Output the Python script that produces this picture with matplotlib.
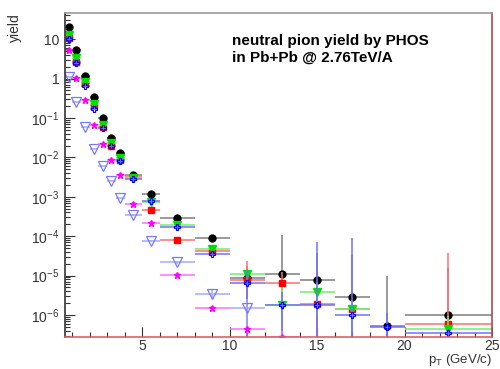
import numpy as np
import matplotlib
matplotlib.use("Agg")
import matplotlib.pyplot as plt
from matplotlib.ticker import FixedLocator, FixedFormatter, NullFormatter, MultipleLocator

plt.rcParams.update({
    "font.family": "Liberation Sans",
    "mathtext.fontset": "custom",
    "mathtext.rm": "Liberation Sans",
    "mathtext.it": "Liberation Sans:italic",
    "axes.unicode_minus": False,
})

nan = np.nan

# pT bins (GeV/c)
pt_lo = np.array([0.6, 1.0, 1.5, 2.0, 2.5, 3.0, 3.5, 4, 5, 6, 8, 10, 12, 14, 16, 18, 20])
pt_hi = np.array([1.0, 1.5, 2.0, 2.5, 3.0, 3.5, 4.0, 5, 6, 8, 10, 12, 14, 16, 18, 20, 25])

# yields per series
y_black = [20, 5.3, 1.19, 0.34, 0.099, 0.031, 0.013, 0.0036, 1.2e-3, 2.9e-4, 8.9e-5,
           8.5e-6, 1.1e-5, 7.7e-6, 2.9e-6, 5.1e-7, 1.0e-6]
e_black = [0, 0, 0, 0, 0, 0, 0, 1e-4, 5e-5, 2e-5, 5e-6,
           9e-6, 9.5e-5, 3e-5, 3e-5, 9.5e-6, 1.5e-5]

y_red = [11, 2.7, 0.76, 0.21, 0.06, 0.02, 0.0087, 0.0031, 4.5e-4, 8.1e-5, 4.1e-5,
         7.5e-6, 6.3e-6, 1.9e-6, 1.4e-6, nan, 6.0e-7]
e_red = [0, 0, 0, 0, 0, 0, 0, 1e-4, 4e-5, 1e-5, 4e-6,
         1.55e-5, 6e-6, 2e-6, 5e-7, nan, 3.6e-5]

y_green = [13, 3.3, 0.84, 0.23, 0.067, 0.023, 0.0095, 0.003, 7.2e-4, 1.95e-4, 4.8e-5,
           1.07e-5, 1.8e-6, 3.9e-6, 1.4e-6, nan, 4.5e-7]
e_green = [0, 0, 0, 0, 0, 0, 0, 1e-4, 4e-5, 1e-5, 4e-6,
           2e-6, 3.4e-6, 3e-6, 1e-6, nan, 5e-7]

y_blue = [10, 2.55, 0.65, 0.17, 0.055, 0.019, 0.0083, 0.0028, 7.6e-4, 1.66e-4, 3.5e-5,
          6.6e-6, 1.8e-6, 1.8e-6, 1.0e-6, 5.0e-7, 3.5e-7]
e_blue = [0, 0, 0, 0, 0, 0, 0, 1e-4, 4e-5, 1e-5, 4e-6,
          7e-6, 2e-6, 7.1e-5, 8.8e-5, 6e-7, 1e-7]

y_violet = [1.1, 0.26, 0.06, 0.016, 0.0059, 0.0025, 9.1e-4, 3.5e-4, 7.6e-5, 2.2e-5, 3.5e-6,
            1.5e-6, nan, nan, nan, nan, nan]
e_violet = [0, 0, 0, 0, 0, 0, 0, 2e-5, 5e-6, 2e-6, 1e-6,
            1e-6, nan, nan, nan, nan, nan]

y_magenta = [5.4, 1.06, 0.28, 0.067, 0.022, 0.0087, 0.0035, 6.6e-4, 2.2e-4, 1.05e-5, 1.5e-6,
             4.4e-7, 2.8e-7, nan, nan, nan, nan]
e_magenta = [0, 0, 0, 0, 0, 0, 0, 2e-5, 1e-5, 1e-6, 2e-7,
             1e-7, 1e-7, nan, nan, nan, nan]

y_ticks = [1e-6, 1e-5, 1e-4, 1e-3, 1e-2, 1e-1, 1, 10]
y_ticklabels = [r"$10^{-6}$", r"$10^{-5}$", r"$10^{-4}$", r"$10^{-3}$",
                r"$10^{-2}$", r"$10^{-1}$", "1", "10"]

series = [
    (y_black, e_black, "#000000", "#7f7f7f", dict(marker="o", ms=5.0)),
    (y_red, e_red, "#ff0000", "#ff7070", dict(marker="s", ms=5.0)),
    (y_green, e_green, "#00e000", "#70ee70", dict(marker="v", ms=5.5)),
    (y_blue, e_blue, "#0000ff", "#7070ff", dict(marker="P", ms=5.0, mfc="none", mew=0.8)),
    (y_violet, e_violet, "#7878ff", "#a8a8ff", dict(marker="v", ms=6.5, mfc="none", mew=0.9)),
    (y_magenta, e_magenta, "#ff00ff", "#ff70ff", dict(marker="*", ms=5.0)),
]

x = (pt_lo + pt_hi) / 2
xerr = (pt_hi - pt_lo) / 2

fig = plt.figure(figsize=(5.0, 3.69), dpi=100)
ax = fig.add_axes([0.13, 0.0875, 0.854, 0.877])
ax.set_yscale("log", nonpositive="clip")

for yv, ev, col, ecol, mk in series:
    ax.errorbar(x, yv, yerr=ev, xerr=xerr, fmt="none", ecolor=ecol, elinewidth=1.1, capsize=0)
    ax.plot(x, yv, linestyle="none", color=col, mec=col, **mk)

ax.set_xlim(0.6, 25)
ax.set_ylim(2.8e-7, 46)

ax.yaxis.set_major_locator(FixedLocator(y_ticks))
ax.yaxis.set_major_formatter(FixedFormatter(y_ticklabels))
minor = [m * 10.0 ** k for k in range(-7, 2) for m in range(2, 10)]
ax.yaxis.set_minor_locator(FixedLocator(minor))
ax.yaxis.set_minor_formatter(NullFormatter())
ax.xaxis.set_major_locator(FixedLocator([5, 10, 15, 20, 25]))
ax.xaxis.set_minor_locator(MultipleLocator(1))

ax.tick_params(which="both", direction="in", colors="#333333", labelsize=10,
               top=False, right=False)
ax.tick_params(which="major", length=7, width=0.8)
ax.tick_params(which="minor", length=3.5, width=0.8)
ax.tick_params(axis="y", pad=4)
ax.tick_params(axis="x", pad=1.5)

ax.spines["left"].set_color("#333333")
ax.spines["bottom"].set_color("#e06060")
ax.spines["top"].set_color("#999999")
ax.spines["right"].set_color("#a05050")
for s in ax.spines.values():
    s.set_linewidth(1.2)

fig.text(0.03, 0.965, "yield", rotation=90, ha="center", va="top", fontsize=10, color="#333333")
fig.text(0.984, 0.002, r"p$_\mathregular{T}$ (GeV/c)", ha="right", va="bottom",
         fontsize=9.5, color="#333333")

ax.text(0.39, 0.935, "neutral pion yield by PHOS\nin Pb+Pb @ 2.76TeV/A",
        transform=ax.transAxes, ha="left", va="top", fontsize=11, fontweight="bold",
        linespacing=1.25)

fig.savefig("out.png", dpi=100, facecolor="white")
